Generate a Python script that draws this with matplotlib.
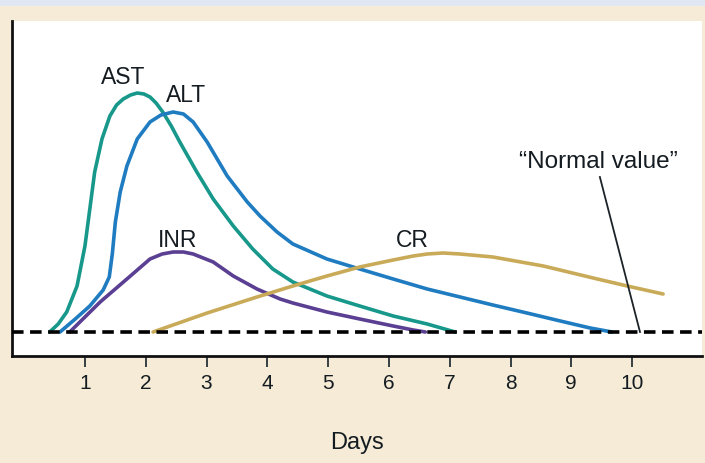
import matplotlib
matplotlib.use('Agg')
import matplotlib.pyplot as plt
from matplotlib.patches import Rectangle

plt.rcParams['font.family'] = ['Liberation Sans', 'DejaVu Sans']

# values: days after injury, level above "normal value"
ast_days = [0.42, 0.56, 0.70, 0.87, 1.00, 1.08, 1.16, 1.28, 1.41, 1.52, 1.63, 1.75,
            1.86, 1.97, 2.07, 2.17, 2.28, 2.42, 2.56, 2.84, 3.11, 3.44, 3.76, 4.09,
            4.42, 4.98, 5.52, 6.07, 6.63, 7.09]
ast_vals = [0, 8, 20, 46, 86, 123, 160, 193, 216, 227, 233, 237,
            239, 238, 235, 229, 220, 206, 190, 160, 133, 106, 83, 63,
            50, 36, 26, 16, 8, 0]

alt_days = [0.59, 0.84, 1.08, 1.30, 1.40, 1.45, 1.50, 1.58, 1.69, 1.86, 2.07, 2.25,
            2.45, 2.62, 2.78, 3.01, 3.34, 3.67, 3.88, 4.16, 4.42, 4.98, 5.52, 6.07,
            6.63, 7.17, 7.71, 8.27, 8.82, 9.31, 9.67]
alt_vals = [0, 13, 26, 42, 55, 78, 110, 140, 166, 193, 210, 217,
            220, 218, 210, 190, 156, 130, 116, 100, 88, 73, 63, 53,
            43, 35, 27, 19, 11, 4, 0]

inr_days = [0.75, 1.00, 1.25, 1.69, 2.07, 2.27, 2.45, 2.62, 2.78, 3.11, 3.44, 3.83,
            4.21, 4.42, 4.98, 5.52, 6.07, 6.40, 6.60]
inr_vals = [0, 15, 30, 53, 73, 78, 80, 80, 78, 70, 56, 43,
            33, 29, 20, 13, 6, 2, 0]

cr_days = [2.12, 3.01, 3.83, 4.42, 4.98, 5.52, 6.07, 6.40, 6.63, 6.89, 7.17, 7.71,
           8.54, 9.36, 9.92, 10.51]
cr_vals = [0, 19, 35, 46, 56, 65, 72, 76, 78, 79, 78, 75,
           66, 54, 46, 38]

tick_days = [1, 2, 3, 4, 5, 6, 7, 8, 9, 10]
normal_value = 0
pointer_days = [9.47, 10.13]
pointer_vals = [155, 0]

fig = plt.figure(figsize=(7.05, 4.64), dpi=100, facecolor='#f5ebd6')
fig.patches.append(Rectangle((0, 1 - 7 / 464), 1, 7 / 464, transform=fig.transFigure,
                             facecolor='#e1e6f3', edgecolor='none', zorder=0))
ax = fig.add_axes([12 / 705, 1 - 357 / 464, 690 / 705, 335 / 464])
ax.set_facecolor('white')

lw = 2.6
for d, v, c in [(ast_days, ast_vals, '#17988a'), (alt_days, alt_vals, '#1f7cc1'),
                (inr_days, inr_vals, '#5a3f92'), (cr_days, cr_vals, '#c9aa58')]:
    ax.plot(d, v, color=c, lw=lw, solid_joinstyle='round', solid_capstyle='round')
ax.axhline(normal_value, color='black', lw=2.6, linestyle=(0, (3.2, 1.8)), zorder=5)
ax.plot(pointer_days, pointer_vals, color='#1c2328', lw=1.3)

txt = dict(fontsize=16.5, color='#151c21', ha='center', va='center')
ax.text(1.63, 255, 'AST', **txt)
ax.text(2.66, 237, 'ALT', **txt)
ax.text(2.53, 92, 'INR', **txt)
ax.text(6.38, 92, 'CR', **txt)
ax.text(9.45, 171, '\u201cNormal value\u201d', fontsize=17.5, color='#151c21',
        ha='center', va='center')

ax.set_xlim(-0.2, 11.15)
ax.set_ylim(-24, 311)
ax.set_xticks(tick_days)
ax.set_xticklabels([str(d) for d in tick_days])
ax.set_yticks([])
ax.tick_params(axis='x', direction='out', length=8, width=1.3, color='#2a3338',
               labelsize=15, labelcolor='#151c21', pad=4)
for s in ['top', 'right']:
    ax.spines[s].set_visible(False)
for s in ['left', 'bottom']:
    ax.spines[s].set_linewidth(2)
    ax.spines[s].set_color('#111111')
ax.set_xlabel('Days', fontsize=17, color='#151c21', labelpad=28)

fig.savefig('out.png', dpi=100, facecolor=fig.get_facecolor())
